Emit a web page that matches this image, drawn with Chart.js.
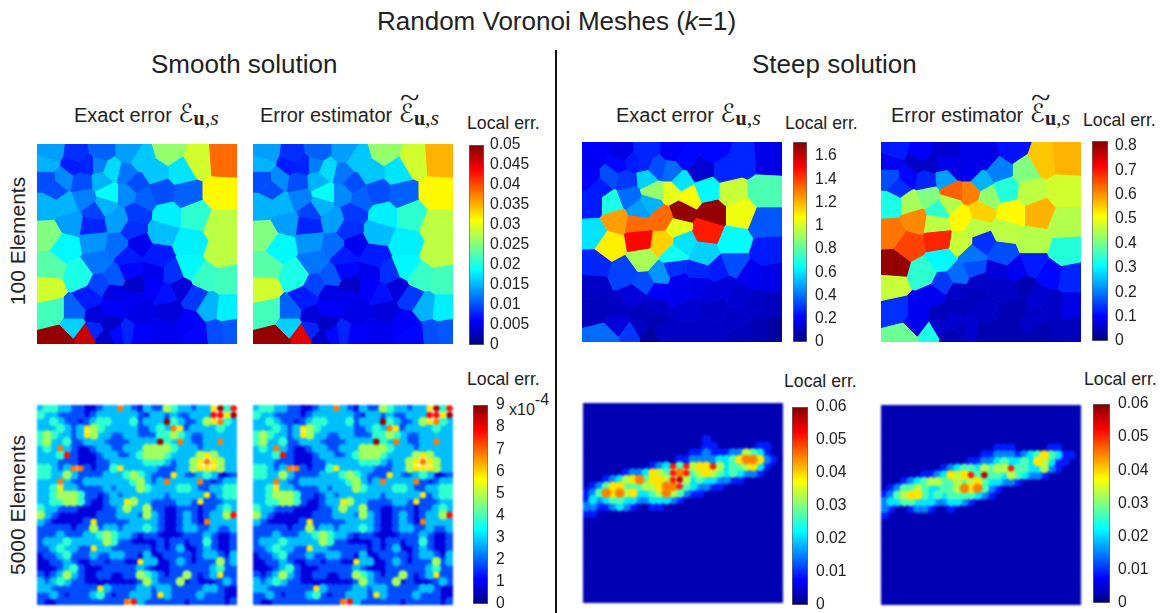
<!DOCTYPE html>
<html>
<head>
<meta charset="utf-8">
<title>Random Voronoi Meshes</title>
<script src="https://cdn.jsdelivr.net/npm/chart.js@4"></script>
<style>
  html, body { margin: 0; padding: 0; background: #fff; overflow: hidden; }
  #page { position: relative; width: 1170px; height: 613px; font-family: "Liberation Sans", Arial, sans-serif; color: #222; }
  #page canvas { position: absolute; }
  canvas.panel { filter: blur(0.7px); }
  canvas.fine { filter: blur(1.1px); }
  .txt { position: absolute; white-space: nowrap; line-height: 1; }
  .big { font-size: 26px; }
  .head { font-size: 20px; }
  .cb { font-size: 17.7px; }
  .rot { font-size: 21px; transform: translate(-50%, -50%) rotate(-90deg); }
  .m { position: relative; font-family: "Liberation Serif", serif; margin-left: 1px; }
  .m .e { font-family: "DejaVu Sans", sans-serif; font-size: 25px; font-style: italic; }
  .m .u { font-weight: bold; font-size: 20px; position: relative; top: 3px; }
  .m .s { font-style: italic; font-size: 22px; position: relative; top: 3px; }
  .m .t { position: absolute; left: 1px; top: -21px; font-size: 30px; transform: scaleX(1.2); transform-origin: left; }
  #divider { position: absolute; left: 555px; top: 50px; width: 2px; height: 563px; background: #111; }
</style>
</head>
<body>
<div id="page">
  <div class="txt" style="left:377px;top:8px;font-size:26px">Random Voronoi Meshes (<i>k</i>=1)</div>
  <div class="txt big" style="left:151px;top:51px">Smooth solution</div>
  <div class="txt big" style="left:752px;top:51px">Steep solution</div>
  <div id="divider"></div>
  <div class="txt rot" style="left:17px;top:241px">100 Elements</div>
  <div class="txt rot" style="left:17px;top:505px">5000 Elements</div>

  <div class="txt head" style="left:74px;top:101px">Exact error <span class="m"><span class="e">ℰ</span><span class="u">u</span><span class="s">,s</span></span></div>
  <div class="txt head" style="left:260px;top:101px">Error estimator <span class="m"><span class="t">~</span><span class="e">ℰ</span><span class="u">u</span><span class="s">,s</span></span></div>
  <div class="txt head" style="left:616px;top:101px">Exact error <span class="m"><span class="e">ℰ</span><span class="u">u</span><span class="s">,s</span></span></div>
  <div class="txt head" style="left:891px;top:101px">Error estimator <span class="m"><span class="t">~</span><span class="e">ℰ</span><span class="u">u</span><span class="s">,s</span></span></div>

  <div class="txt cb" style="left:467px;top:115px">Local err.</div>
  <div class="txt cb" style="left:785px;top:115px">Local err.</div>
  <div class="txt cb" style="left:1083px;top:112px">Local err.</div>
  <div class="txt cb" style="left:467px;top:371px">Local err.</div>
  <div class="txt cb" style="left:784px;top:373px">Local err.</div>
  <div class="txt cb" style="left:1084px;top:371px">Local err.</div>
  <div class="txt" style="left:509px;top:402px;font-size:16px">x10<sup style="font-size:16px;position:relative;top:-4px;line-height:0">-4</sup></div>
</div>

<script>
// mesh of the 100 element plots, seeds in a 0-600 box
const seedX = [38,118,193,273,313,393,483,553,28,108,148,183,223,268,353,433,548,28,78,133,193,298,373,448,53,213,143,268,323,28,88,203,173,168,103,238,300,388,473,548,33,288,373,83,173,240,303,458,553,183,273,363,38,458,503,568,128,33,278,348,408,233,188,293,348,388,428,48,158,228,288,473,108,223,178,513,568,308,398,458,108,218,173,68,148,203,238,270,303,378,483,533,578];
const seedY = [27,37,22,22,47,22,52,47,57,62,62,62,77,87,82,82,147,107,102,112,107,117,142,147,132,147,162,147,162,182,182,182,202,242,232,227,207,212,212,242,272,257,262,307,292,302,297,297,327,352,337,337,367,367,397,407,392,432,377,387,387,397,422,422,427,447,432,502,462,447,462,462,502,492,512,487,492,502,502,532,542,537,557,582,572,582,572,567,572,562,572,567,562];

// colour bar fraction of every cell
const smoothExact = [.28,.17,.22,.28,.32,.52,.58,.77,.3,.15,.16,.25,.34,.24,.32,.35,.63,.2,.26,.2,.3,.2,.2,.22,.2,.38,.25,.26,.22,.3,.3,.3,.19,.16,.28,.28,.18,.36,.42,.56,.5,.17,.31,.37,.27,.23,.11,.36,.56,.24,.15,.15,.46,.37,.43,.44,.4,.58,.13,.11,.17,.21,.19,.07,.12,.14,.09,.44,.15,.1,.11,.18,.22,.12,.09,.3,.36,.1,.09,.12,.33,.07,.16,.98,.93,.07,.13,.16,.12,.11,.13,.2,.21];
const smoothEst = [.28,.17,.22,.28,.32,.52,.58,.7,.3,.15,.16,.25,.34,.24,.32,.35,.63,.2,.26,.2,.3,.2,.2,.22,.2,.38,.25,.26,.22,.3,.3,.3,.19,.16,.28,.28,.18,.36,.42,.56,.5,.17,.31,.37,.27,.23,.11,.36,.56,.24,.15,.15,.46,.37,.43,.44,.4,.58,.13,.11,.17,.21,.19,.07,.12,.14,.09,.44,.15,.1,.11,.18,.22,.12,.09,.3,.36,.1,.09,.12,.33,.07,.16,.98,.9,.07,.13,.16,.12,.11,.13,.2,.21];
const steepExact = [.12,.1,.16,.12,.13,.13,.16,.1,.11,.13,.15,.16,.2,.23,.08,.16,.45,.12,.2,.18,.33,.35,.37,.57,.15,.52,.23,.6,.62,.15,.4,.3,.28,.77,.72,.77,.98,.98,.61,.21,.35,.6,.85,.64,.87,.67,.35,.375,.15,.54,.39,.33,.16,.2,.11,.1,.19,.07,.17,.16,.15,.27,.2,.11,.1,.09,.09,.06,.09,.12,.11,.08,.07,.07,.06,.07,.06,.08,.07,.07,.09,.05,.07,.23,.18,.03,.07,.07,.07,.07,.06,.05,.03];
const steepEst = [.15,.12,.08,.1,.1,.14,.68,.7,.11,.07,.07,.11,.1,.11,.25,.5,.58,.2,.13,.16,.28,.3,.41,.56,.17,.78,.5,.75,.52,.4,.54,.55,.42,.56,.74,.63,.67,.63,.7,.55,.76,.56,.56,.81,.84,.57,.17,.55,.41,.37,.24,.2,.98,.15,.13,.16,.42,.57,.2,.09,.11,.23,.18,.07,.07,.07,.05,.17,.11,.07,.06,.08,.11,.06,.06,.07,.1,.07,.05,.07,.11,.08,.08,.48,.4,.05,.06,.08,.05,.05,.05,.06,.06];

// 5000 element plots, one digit per cell
const smoothFine = [
"344332211233732132254332336948",
"433222212333333213323223338869",
"334322123443334233394322356743",
"333432365433333223437623333433",
"454332365332233222445432233333",
"453342233322223333943732233733",
"343732112332233355554333233333",
"333482111233223455543333565333",
"333222111223333344432335676533",
"443237721224633333222335666533",
"443353222233345432226322343112",
"333732233333334532373333721233",
"334633222232333543333443223344",
"334555422123233333323333362344",
"334455421123365332222332622233",
"433222111122353352211222122343",
"532111111222333253211232123358",
"321111126222223333211232173333",
"222221225233233343211233223223",
"222322233454332122111122232112",
"233343333354221111212212242112",
"223433226332222221212311232112",
"122342223223322131122221233213",
"112232112212211633112321222523",
"111234211122222321112222223422",
"212353211221122543212252123622",
"323432211111111253222512111232",
"332222222632222332332222233211",
"223212223421223332632222322211",
"211222222222278322222212222212"
];
const steepFineExact = [
"000000000000000000000000000000","000000000000000000000000000000","000000000000000000000000000000","000000000000000000000000000000","000000000000000000000000000000",
"000000000000000000100000000000",
"000000000000000000110000001100",
"000000000000000011211122543100",
"000000000000001122223346776210",
"000000000012384856685344563100",
"000000122365487845654343221000",
"000123567466589534332211000000",
"012466444556778432211000000000",
"124767563345754211000000000000",
"132344332233321000000000000000",
"221123210011000000000000000000",
"110000000000000000000000000000"
];
const steepFineEst = [
"000000000000000000000000000000","000000000000000000000000000000","000000000000000000000000000000","000000000000000000000000000000","000000000000000000000000000000",
"000000000000000000000000000000",
"000000000000000001110000011000",
"000000000000000112221234643110",
"000000000000011223433436531100",
"000000000123443545584433521000",
"000000112365684944354322100000",
"000123455445456433221000000000",
"012445433445767421000000000000",
"124566434344443210000000000000",
"233443332233210000000000000000",
"210012210010000000000000000000",
"100000000000000000000000000000"
];

const ticksA = [0,.005,.01,.015,.02,.025,.03,.035,.04,.045,.05];
const labelsA = ["0","0.005","0.01","0.015","0.02","0.025","0.03","0.035","0.04","0.045","0.05"];
const ticksB = [0,.2,.4,.6,.8,1,1.2,1.4,1.6];
const labelsB = ["0","0.2","0.4","0.6","0.8","1","1.2","1.4","1.6"];
const ticksC = [0,.1,.2,.3,.4,.5,.6,.7,.8];
const labelsC = ["0","0.1","0.2","0.3","0.4","0.5","0.6","0.7","0.8"];
const ticksD = [0,1,2,3,4,5,6,7,8,9];
const labelsD = ["0","1","2","3","4","5","6","7","8","9"];
const ticksE = [0,.01,.02,.03,.04,.05,.06];
const labelsE = ["0","0.01","0.02","0.03","0.04","0.05","0.06"];

const page = document.getElementById("page");

function jet(t) {
  const c = v => Math.round(255 * Math.max(0, Math.min(1, v)));
  return `rgb(${c(1.5 - Math.abs(4 * t - 3))},${c(1.5 - Math.abs(4 * t - 2))},${c(1.5 - Math.abs(4 * t - 1))})`;
}

function addCanvas(x, y, w, h, cls) {
  const cv = document.createElement("canvas");
  cv.width = w; cv.height = h;
  cv.style.cssText = `left:${x}px;top:${y}px;width:${w}px;height:${h}px`;
  if (cls) cv.className = cls;
  page.appendChild(cv);
  return cv;
}

// cell of seed i = the box clipped by the bisector with every other seed
function voronoiCell(i) {
  let poly = [[0,0],[600,0],[600,600],[0,600]];
  for (let j = 0; j < seedX.length; j++) {
    if (j === i) continue;
    const mx = (seedX[i] + seedX[j]) / 2, my = (seedY[i] + seedY[j]) / 2;
    const nx = seedX[j] - seedX[i], ny = seedY[j] - seedY[i];
    const out = [];
    for (let k = 0; k < poly.length; k++) {
      const a = poly[k], b = poly[(k + 1) % poly.length];
      const da = (a[0] - mx) * nx + (a[1] - my) * ny;
      const db = (b[0] - mx) * nx + (b[1] - my) * ny;
      if (da <= 0) out.push(a);
      if (da * db < 0) {
        const f = da / (da - db);
        out.push([a[0] + f * (b[0] - a[0]), a[1] + f * (b[1] - a[1])]);
      }
    }
    poly = out;
  }
  return poly.map(p => ({ x: p[0], y: p[1] }));
}

const boxScales = {
  x: { type: "linear", min: 0, max: 600, display: false },
  y: { type: "linear", min: 0, max: 600, reverse: true, display: false }
};

function meshPanel(x, y, levels) {
  const datasets = levels.map((lv, i) => {
    const pts = voronoiCell(i);
    pts.push(pts[0]);
    return {
      data: pts, showLine: true, fill: "shape", tension: 0,
      backgroundColor: jet(lv), borderColor: jet(lv), borderWidth: 1, pointRadius: 0
    };
  });
  new Chart(addCanvas(x, y, 200, 200, "panel"), {
    type: "scatter",
    data: { datasets },
    options: {
      responsive: false, animation: false, events: [],
      layout: { padding: 0, autoPadding: false }, scales: boxScales,
      plugins: { legend: { display: false }, tooltip: { enabled: false } }
    }
  });
}

function finePanel(x, y, rows, toLevel, hotFrom) {
  const pts = [];
  for (let r = 0; r < 30; r++) {
    const row = rows[r] || "";
    for (let c = 0; c < 30; c++) {
      const d = c < row.length ? +row[c] : 0;
      pts.push({ x: (c + .5) * 20, y: (r + .5) * 20, lv: toLevel(d) });
    }
  }
  pts.sort((a, b) => a.lv - b.lv);
  new Chart(addCanvas(x, y, 200, 200, "fine"), {
    type: "scatter",
    data: { datasets: [{
      data: pts, borderWidth: 0,
      pointRadius: pts.map(p => p.lv >= hotFrom ? 3.2 : 4.8),
      backgroundColor: pts.map(p => jet(p.lv))
    }] },
    options: {
      responsive: false, animation: false, events: [],
      layout: { padding: 0, autoPadding: false }, scales: boxScales,
      plugins: { legend: { display: false }, tooltip: { enabled: false } }
    }
  });
}

function colorBar(x, top, barW, barH, maxVal, ticks, labels, gap) {
  const w = 90, pad = 10;
  new Chart(addCanvas(x, top - pad, w, barH + 2 * pad), {
    type: "bar",
    data: {
      labels: [""],
      datasets: [{
        data: [maxVal], barPercentage: 1, categoryPercentage: 1,
        borderColor: "#666", borderWidth: 1, borderSkipped: false,
        backgroundColor: ctx => {
          const area = ctx.chart.chartArea;
          if (!area) return "#00f";
          const g = ctx.chart.ctx.createLinearGradient(0, area.bottom, 0, area.top);
          for (let i = 0; i <= 16; i++) g.addColorStop(i / 16, jet(i / 16));
          return g;
        }
      }]
    },
    options: {
      responsive: false, animation: false, events: [],
      layout: { padding: { top: pad, bottom: pad, left: 0, right: 0 }, autoPadding: false },
      scales: {
        x: { display: false },
        y: {
          position: "right", min: 0, max: maxVal,
          afterFit: s => { s.width = w - barW; s.paddingTop = 0; s.paddingBottom = 0; },
          afterBuildTicks: s => { s.ticks = ticks.map(v => ({ value: v })); },
          grid: { display: false, tickLength: 0 }, border: { display: false },
          ticks: {
            autoSkip: false, padding: gap, color: "#222",
            font: { family: "Liberation Sans", size: 15.7 },
            callback: (v, i) => labels[i]
          }
        }
      },
      plugins: { legend: { display: false }, tooltip: { enabled: false } }
    }
  });
}

meshPanel(37, 144, smoothExact);
meshPanel(253, 144, smoothEst);
meshPanel(582, 142, steepExact);
meshPanel(881, 142, steepEst);

// smooth digits are the error in 1e-4, steep digits step through the 0-0.06 bar
const smoothLevel = d => (d - .2) / 9;
const steepLevel = d => .05 + d * .1;
finePanel(37, 405, smoothFine, smoothLevel, .6);
finePanel(253, 405, smoothFine, smoothLevel, .6);
finePanel(583, 403, steepFineExact, steepLevel, .8);
finePanel(881, 405, steepFineEst, steepLevel, .8);

colorBar(469, 145, 15, 200, .05, ticksA, labelsA, 6);
colorBar(793, 142, 14, 200, 1.72, ticksB, labelsB, 8);
colorBar(1092, 141, 16, 200, .82, ticksC, labelsC, 7);
colorBar(473, 405, 15, 199, 9, ticksD, labelsD, 8);
colorBar(792, 407, 16, 198, .06, ticksE, labelsE, 8);
colorBar(1093, 404, 17, 199, .06, ticksE, labelsE, 8);
</script>
</body>
</html>
